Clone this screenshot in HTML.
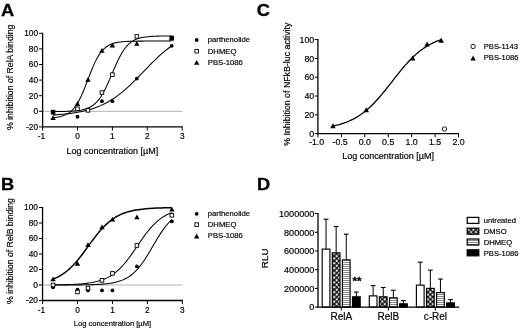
<!DOCTYPE html>
<html lang="en"><head><meta charset="utf-8"><title>Figure</title>
<style>
html,body{margin:0;padding:0;background:#fff;}
body{width:520px;height:329px;overflow:hidden;}
svg{display:block;font-family:'Liberation Sans', Arial, Helvetica, sans-serif;}
</style></head><body>
<svg width="520" height="329" viewBox="0 0 520 329">
<rect width="520" height="329" fill="#fff"/>
<line x1="42.60" y1="111.30" x2="182.20" y2="111.30" stroke="#a8a8a8" stroke-width="0.9"/>
<path d="M53.07,117.68 L55.05,117.47 L57.03,117.21 L59.00,116.86 L60.98,116.42 L62.96,115.84 L64.94,115.10 L66.91,114.15 L68.89,112.94 L70.87,111.41 L72.85,109.51 L74.82,107.18 L76.80,104.35 L78.78,100.99 L80.76,97.09 L82.73,92.69 L84.71,87.88 L86.69,82.79 L88.67,77.59 L90.65,72.46 L92.62,67.59 L94.60,63.11 L96.58,59.11 L98.56,55.65 L100.53,52.72 L102.51,50.29 L104.49,48.32 L106.47,46.73 L108.44,45.46 L110.42,44.47 L112.40,43.69 L114.38,43.09 L116.36,42.62 L118.33,42.25 L120.31,41.98 L122.29,41.76 L124.27,41.60 L126.24,41.47 L128.22,41.37 L130.20,41.30 L132.18,41.24 L134.15,41.20 L136.13,41.17 L138.11,41.14 L140.09,41.12 L142.06,41.11 L144.04,41.10 L146.02,41.09 L148.00,41.08 L149.98,41.08 L151.95,41.07 L153.93,41.07 L155.91,41.07 L157.89,41.07 L159.86,41.07 L161.84,41.06 L163.82,41.06 L165.80,41.06 L167.77,41.06 L169.75,41.06 L171.73,41.06" fill="none" stroke="#000" stroke-width="1.05" stroke-linejoin="round"/>
<path d="M53.07,111.55 L55.05,111.54 L57.03,111.52 L59.00,111.50 L60.98,111.47 L62.96,111.44 L64.94,111.40 L66.91,111.34 L68.89,111.27 L70.87,111.18 L72.85,111.06 L74.82,110.91 L76.80,110.71 L78.78,110.47 L80.76,110.15 L82.73,109.76 L84.71,109.25 L86.69,108.61 L88.67,107.81 L90.65,106.81 L92.62,105.56 L94.60,104.03 L96.58,102.15 L98.56,99.90 L100.53,97.22 L102.51,94.09 L104.49,90.51 L106.47,86.53 L108.44,82.19 L110.42,77.60 L112.40,72.90 L114.38,68.23 L116.36,63.72 L118.33,59.49 L120.31,55.64 L122.29,52.23 L124.27,49.26 L126.24,46.73 L128.22,44.61 L130.20,42.86 L132.18,41.44 L134.15,40.28 L136.13,39.35 L138.11,38.61 L140.09,38.03 L142.06,37.56 L144.04,37.20 L146.02,36.91 L148.00,36.68 L149.98,36.51 L151.95,36.37 L153.93,36.26 L155.91,36.17 L157.89,36.11 L159.86,36.06 L161.84,36.02 L163.82,35.99 L165.80,35.96 L167.77,35.94 L169.75,35.93 L171.73,35.92" fill="none" stroke="#000" stroke-width="1.05" stroke-linejoin="round"/>
<path d="M53.07,115.00 L55.05,114.88 L57.03,114.74 L59.00,114.59 L60.98,114.43 L62.96,114.25 L64.94,114.05 L66.91,113.84 L68.89,113.61 L70.87,113.36 L72.85,113.08 L74.82,112.78 L76.80,112.46 L78.78,112.10 L80.76,111.72 L82.73,111.30 L84.71,110.85 L86.69,110.36 L88.67,109.83 L90.65,109.25 L92.62,108.63 L94.60,107.96 L96.58,107.24 L98.56,106.46 L100.53,105.63 L102.51,104.74 L104.49,103.78 L106.47,102.76 L108.44,101.67 L110.42,100.51 L112.40,99.28 L114.38,97.98 L116.36,96.60 L118.33,95.16 L120.31,93.64 L122.29,92.05 L124.27,90.40 L126.24,88.68 L128.22,86.89 L130.20,85.06 L132.18,83.16 L134.15,81.23 L136.13,79.25 L138.11,77.24 L140.09,75.21 L142.06,73.17 L144.04,71.11 L146.02,69.06 L148.00,67.02 L149.98,64.99 L151.95,62.99 L153.93,61.03 L155.91,59.11 L157.89,57.23 L159.86,55.41 L161.84,53.65 L163.82,51.95 L165.80,50.32 L167.77,48.76 L169.75,47.26 L171.73,45.84" fill="none" stroke="#000" stroke-width="1.05" stroke-linejoin="round"/>
<line x1="42.60" y1="32.80" x2="42.60" y2="127.40" stroke="#000" stroke-width="1.3"/>
<line x1="42.10" y1="126.90" x2="182.70" y2="126.90" stroke="#000" stroke-width="1.3"/>
<line x1="39.00" y1="33.30" x2="42.60" y2="33.30" stroke="#000" stroke-width="1.0"/>
<text x="38.00" y="36.25" font-size="8.3" text-anchor="end" font-weight="normal" fill="#000" stroke="#000" stroke-width="0.18">100</text>
<line x1="39.00" y1="48.90" x2="42.60" y2="48.90" stroke="#000" stroke-width="1.0"/>
<text x="38.00" y="51.85" font-size="8.3" text-anchor="end" font-weight="normal" fill="#000" stroke="#000" stroke-width="0.18">80</text>
<line x1="39.00" y1="64.50" x2="42.60" y2="64.50" stroke="#000" stroke-width="1.0"/>
<text x="38.00" y="67.45" font-size="8.3" text-anchor="end" font-weight="normal" fill="#000" stroke="#000" stroke-width="0.18">60</text>
<line x1="39.00" y1="80.10" x2="42.60" y2="80.10" stroke="#000" stroke-width="1.0"/>
<text x="38.00" y="83.05" font-size="8.3" text-anchor="end" font-weight="normal" fill="#000" stroke="#000" stroke-width="0.18">40</text>
<line x1="39.00" y1="95.70" x2="42.60" y2="95.70" stroke="#000" stroke-width="1.0"/>
<text x="38.00" y="98.65" font-size="8.3" text-anchor="end" font-weight="normal" fill="#000" stroke="#000" stroke-width="0.18">20</text>
<line x1="39.00" y1="111.30" x2="42.60" y2="111.30" stroke="#000" stroke-width="1.0"/>
<text x="38.00" y="114.25" font-size="8.3" text-anchor="end" font-weight="normal" fill="#000" stroke="#000" stroke-width="0.18">0</text>
<line x1="39.00" y1="126.90" x2="42.60" y2="126.90" stroke="#000" stroke-width="1.0"/>
<text x="38.00" y="129.85" font-size="8.3" text-anchor="end" font-weight="normal" fill="#000" stroke="#000" stroke-width="0.18">-20</text>
<line x1="42.60" y1="126.90" x2="42.60" y2="130.50" stroke="#000" stroke-width="1.0"/>
<text x="41.40" y="138.80" font-size="8.3" text-anchor="middle" font-weight="normal" fill="#000" stroke="#000" stroke-width="0.18">-1</text>
<line x1="77.50" y1="126.90" x2="77.50" y2="130.50" stroke="#000" stroke-width="1.0"/>
<text x="77.50" y="138.80" font-size="8.3" text-anchor="middle" font-weight="normal" fill="#000" stroke="#000" stroke-width="0.18">0</text>
<line x1="112.40" y1="126.90" x2="112.40" y2="130.50" stroke="#000" stroke-width="1.0"/>
<text x="112.40" y="138.80" font-size="8.3" text-anchor="middle" font-weight="normal" fill="#000" stroke="#000" stroke-width="0.18">1</text>
<line x1="147.30" y1="126.90" x2="147.30" y2="130.50" stroke="#000" stroke-width="1.0"/>
<text x="147.30" y="138.80" font-size="8.3" text-anchor="middle" font-weight="normal" fill="#000" stroke="#000" stroke-width="0.18">2</text>
<line x1="182.20" y1="126.90" x2="182.20" y2="130.50" stroke="#000" stroke-width="1.0"/>
<text x="182.20" y="138.80" font-size="8.3" text-anchor="middle" font-weight="normal" fill="#000" stroke="#000" stroke-width="0.18">3</text>
<text x="13.10" y="77.30" font-size="8.7" text-anchor="middle" font-weight="normal" fill="#000" stroke="#000" stroke-width="0.18" transform="rotate(-90 13.10 77.30)">% inhibition of RelA binding</text>
<text x="112.40" y="153.60" font-size="9.0" text-anchor="middle" font-weight="normal" fill="#000" stroke="#000" stroke-width="0.18">Log concentration [µM]</text>
<text transform="translate(0.90 16.40) scale(1.07 1)" x="0" y="0" font-size="17.1" font-weight="bold" fill="#000" stroke="#000" stroke-width="0.3">A</text>
<circle cx="53.07" cy="112.86" r="1.9" fill="#000"/>
<circle cx="77.50" cy="116.76" r="1.9" fill="#000"/>
<circle cx="87.97" cy="109.74" r="1.9" fill="#000"/>
<circle cx="101.93" cy="101.16" r="1.9" fill="#000"/>
<circle cx="112.40" cy="101.16" r="1.9" fill="#000"/>
<circle cx="136.83" cy="78.54" r="1.9" fill="#000"/>
<circle cx="171.73" cy="45.78" r="1.9" fill="#000"/>
<rect x="75.70" y="107.00" width="3.6" height="3.6" fill="#fff" stroke="#000" stroke-width="0.9"/>
<rect x="86.17" y="108.56" width="3.6" height="3.6" fill="#fff" stroke="#000" stroke-width="0.9"/>
<rect x="100.13" y="90.78" width="3.6" height="3.6" fill="#fff" stroke="#000" stroke-width="0.9"/>
<rect x="110.60" y="72.84" width="3.6" height="3.6" fill="#fff" stroke="#000" stroke-width="0.9"/>
<rect x="135.03" y="34.62" width="3.6" height="3.6" fill="#fff" stroke="#000" stroke-width="0.9"/>
<rect x="51.27" y="110.28" width="3.6" height="3.6" fill="#000" stroke="#000" stroke-width="0.9"/>
<rect x="169.93" y="36.18" width="3.6" height="3.6" fill="#000" stroke="#000" stroke-width="0.9"/>
<path d="M53.07,115.14 L55.77,119.94 L50.37,119.94 Z" fill="#000"/>
<path d="M77.50,101.10 L80.20,105.90 L74.80,105.90 Z" fill="#000"/>
<path d="M87.97,76.92 L90.67,81.72 L85.27,81.72 Z" fill="#000"/>
<path d="M101.93,48.06 L104.63,52.86 L99.23,52.86 Z" fill="#000"/>
<path d="M112.40,42.60 L115.10,47.40 L109.70,47.40 Z" fill="#000"/>
<path d="M136.83,41.04 L139.53,45.84 L134.13,45.84 Z" fill="#000"/>
<path d="M171.73,35.58 L174.43,40.38 L169.03,40.38 Z" fill="#000"/>
<circle cx="196.70" cy="40.00" r="1.9" fill="#000"/>
<rect x="194.90" y="49.40" width="3.6" height="3.6" fill="#fff" stroke="#000" stroke-width="0.9"/>
<path d="M196.70,59.90 L199.40,64.70 L194.00,64.70 Z" fill="#000"/>
<text x="207.80" y="42.40" font-size="7.7" text-anchor="start" font-weight="normal" fill="#000" stroke="#000" stroke-width="0.18">parthenolide</text>
<text x="207.80" y="53.80" font-size="7.7" text-anchor="start" font-weight="normal" fill="#000" stroke="#000" stroke-width="0.18">DHMEQ</text>
<text x="207.80" y="64.50" font-size="7.7" text-anchor="start" font-weight="normal" fill="#000" stroke="#000" stroke-width="0.18">PBS-1086</text>
<line x1="42.55" y1="285.00" x2="182.35" y2="285.00" stroke="#a8a8a8" stroke-width="0.9"/>
<path d="M53.03,279.12 L55.02,278.31 L57.00,277.40 L58.98,276.37 L60.96,275.24 L62.94,273.97 L64.92,272.57 L66.90,271.03 L68.88,269.35 L70.86,267.52 L72.84,265.54 L74.82,263.42 L76.80,261.17 L78.78,258.78 L80.76,256.29 L82.74,253.71 L84.72,251.05 L86.70,248.35 L88.68,245.62 L90.66,242.91 L92.64,240.22 L94.63,237.60 L96.61,235.05 L98.59,232.61 L100.57,230.28 L102.55,228.09 L104.53,226.03 L106.51,224.12 L108.49,222.36 L110.47,220.74 L112.45,219.27 L114.43,217.93 L116.41,216.73 L118.39,215.64 L120.37,214.67 L122.35,213.81 L124.33,213.04 L126.31,212.36 L128.29,211.76 L130.27,211.22 L132.25,210.76 L134.24,210.34 L136.22,209.98 L138.20,209.67 L140.18,209.39 L142.16,209.15 L144.14,208.93 L146.12,208.75 L148.10,208.59 L150.08,208.45 L152.06,208.32 L154.04,208.22 L156.02,208.12 L158.00,208.04 L159.98,207.97 L161.96,207.91 L163.94,207.86 L165.92,207.81 L167.90,207.77 L169.88,207.73 L171.87,207.70" fill="none" stroke="#000" stroke-width="1.5" stroke-linejoin="round"/>
<path d="M53.03,284.87 L55.02,284.85 L57.00,284.83 L58.98,284.80 L60.96,284.76 L62.94,284.73 L64.92,284.68 L66.90,284.63 L68.88,284.57 L70.86,284.50 L72.84,284.42 L74.82,284.33 L76.80,284.22 L78.78,284.09 L80.76,283.95 L82.74,283.78 L84.72,283.58 L86.70,283.36 L88.68,283.10 L90.66,282.80 L92.64,282.45 L94.63,282.05 L96.61,281.60 L98.59,281.07 L100.57,280.47 L102.55,279.78 L104.53,279.00 L106.51,278.11 L108.49,277.11 L110.47,275.98 L112.45,274.70 L114.43,273.28 L116.41,271.71 L118.39,269.97 L120.37,268.06 L122.35,265.98 L124.33,263.74 L126.31,261.34 L128.29,258.79 L130.27,256.12 L132.25,253.34 L134.24,250.49 L136.22,247.59 L138.20,244.67 L140.18,241.77 L142.16,238.93 L144.14,236.16 L146.12,233.49 L148.10,230.96 L150.08,228.57 L152.06,226.34 L154.04,224.28 L156.02,222.39 L158.00,220.66 L159.98,219.09 L161.96,217.69 L163.94,216.43 L165.92,215.30 L167.90,214.31 L169.88,213.43 L171.87,212.66" fill="none" stroke="#000" stroke-width="1.05" stroke-linejoin="round"/>
<path d="M53.03,284.99 L55.02,284.99 L57.00,284.98 L58.98,284.98 L60.96,284.98 L62.94,284.97 L64.92,284.97 L66.90,284.96 L68.88,284.95 L70.86,284.95 L72.84,284.94 L74.82,284.92 L76.80,284.91 L78.78,284.89 L80.76,284.87 L82.74,284.84 L84.72,284.81 L86.70,284.78 L88.68,284.74 L90.66,284.69 L92.64,284.63 L94.63,284.56 L96.61,284.47 L98.59,284.37 L100.57,284.25 L102.55,284.11 L104.53,283.94 L106.51,283.74 L108.49,283.50 L110.47,283.22 L112.45,282.89 L114.43,282.50 L116.41,282.04 L118.39,281.50 L120.37,280.86 L122.35,280.12 L124.33,279.25 L126.31,278.24 L128.29,277.08 L130.27,275.74 L132.25,274.21 L134.24,272.48 L136.22,270.52 L138.20,268.34 L140.18,265.94 L142.16,263.30 L144.14,260.46 L146.12,257.42 L148.10,254.23 L150.08,250.93 L152.06,247.55 L154.04,244.15 L156.02,240.79 L158.00,237.50 L159.98,234.35 L161.96,231.36 L163.94,228.56 L165.92,225.98 L167.90,223.62 L169.88,221.50 L171.87,219.59" fill="none" stroke="#000" stroke-width="1.05" stroke-linejoin="round"/>
<line x1="42.55" y1="207.00" x2="42.55" y2="301.00" stroke="#000" stroke-width="1.3"/>
<line x1="42.05" y1="300.50" x2="182.85" y2="300.50" stroke="#000" stroke-width="1.3"/>
<line x1="38.95" y1="207.50" x2="42.55" y2="207.50" stroke="#000" stroke-width="1.0"/>
<text x="37.95" y="210.45" font-size="8.3" text-anchor="end" font-weight="normal" fill="#000" stroke="#000" stroke-width="0.18">100</text>
<line x1="38.95" y1="223.00" x2="42.55" y2="223.00" stroke="#000" stroke-width="1.0"/>
<text x="37.95" y="225.95" font-size="8.3" text-anchor="end" font-weight="normal" fill="#000" stroke="#000" stroke-width="0.18">80</text>
<line x1="38.95" y1="238.50" x2="42.55" y2="238.50" stroke="#000" stroke-width="1.0"/>
<text x="37.95" y="241.45" font-size="8.3" text-anchor="end" font-weight="normal" fill="#000" stroke="#000" stroke-width="0.18">60</text>
<line x1="38.95" y1="254.00" x2="42.55" y2="254.00" stroke="#000" stroke-width="1.0"/>
<text x="37.95" y="256.95" font-size="8.3" text-anchor="end" font-weight="normal" fill="#000" stroke="#000" stroke-width="0.18">40</text>
<line x1="38.95" y1="269.50" x2="42.55" y2="269.50" stroke="#000" stroke-width="1.0"/>
<text x="37.95" y="272.45" font-size="8.3" text-anchor="end" font-weight="normal" fill="#000" stroke="#000" stroke-width="0.18">20</text>
<line x1="38.95" y1="285.00" x2="42.55" y2="285.00" stroke="#000" stroke-width="1.0"/>
<text x="37.95" y="287.95" font-size="8.3" text-anchor="end" font-weight="normal" fill="#000" stroke="#000" stroke-width="0.18">0</text>
<line x1="38.95" y1="300.50" x2="42.55" y2="300.50" stroke="#000" stroke-width="1.0"/>
<text x="37.95" y="303.45" font-size="8.3" text-anchor="end" font-weight="normal" fill="#000" stroke="#000" stroke-width="0.18">-20</text>
<line x1="42.55" y1="300.50" x2="42.55" y2="304.10" stroke="#000" stroke-width="1.0"/>
<text x="41.35" y="312.60" font-size="8.3" text-anchor="middle" font-weight="normal" fill="#000" stroke="#000" stroke-width="0.18">-1</text>
<line x1="77.50" y1="300.50" x2="77.50" y2="304.10" stroke="#000" stroke-width="1.0"/>
<text x="77.50" y="312.60" font-size="8.3" text-anchor="middle" font-weight="normal" fill="#000" stroke="#000" stroke-width="0.18">0</text>
<line x1="112.45" y1="300.50" x2="112.45" y2="304.10" stroke="#000" stroke-width="1.0"/>
<text x="112.45" y="312.60" font-size="8.3" text-anchor="middle" font-weight="normal" fill="#000" stroke="#000" stroke-width="0.18">1</text>
<line x1="147.40" y1="300.50" x2="147.40" y2="304.10" stroke="#000" stroke-width="1.0"/>
<text x="147.40" y="312.60" font-size="8.3" text-anchor="middle" font-weight="normal" fill="#000" stroke="#000" stroke-width="0.18">2</text>
<line x1="182.35" y1="300.50" x2="182.35" y2="304.10" stroke="#000" stroke-width="1.0"/>
<text x="182.35" y="312.60" font-size="8.3" text-anchor="middle" font-weight="normal" fill="#000" stroke="#000" stroke-width="0.18">3</text>
<text x="13.10" y="251.00" font-size="8.7" text-anchor="middle" font-weight="normal" fill="#000" stroke="#000" stroke-width="0.18" transform="rotate(-90 13.10 251.00)">% inhibition of RelB binding</text>
<text x="112.45" y="325.60" font-size="7.6" text-anchor="middle" font-weight="normal" fill="#000" stroke="#000" stroke-width="0.18">Log concentration [µM]</text>
<text transform="translate(0.90 189.60) scale(1.07 1)" x="0" y="0" font-size="17.1" font-weight="bold" fill="#000" stroke="#000" stroke-width="0.3">B</text>
<circle cx="53.03" cy="287.32" r="1.9" fill="#000"/>
<circle cx="77.50" cy="289.65" r="1.9" fill="#000"/>
<circle cx="87.98" cy="290.43" r="1.9" fill="#000"/>
<circle cx="101.97" cy="290.43" r="1.9" fill="#000"/>
<circle cx="112.45" cy="290.43" r="1.9" fill="#000"/>
<circle cx="136.92" cy="266.40" r="1.9" fill="#000"/>
<circle cx="171.87" cy="221.45" r="1.9" fill="#000"/>
<rect x="51.23" y="283.20" width="3.6" height="3.6" fill="#fff" stroke="#000" stroke-width="0.9"/>
<rect x="75.70" y="290.18" width="3.6" height="3.6" fill="#fff" stroke="#000" stroke-width="0.9"/>
<rect x="86.19" y="286.30" width="3.6" height="3.6" fill="#fff" stroke="#000" stroke-width="0.9"/>
<rect x="100.17" y="278.55" width="3.6" height="3.6" fill="#fff" stroke="#000" stroke-width="0.9"/>
<rect x="110.65" y="271.57" width="3.6" height="3.6" fill="#fff" stroke="#000" stroke-width="0.9"/>
<rect x="135.12" y="243.67" width="3.6" height="3.6" fill="#fff" stroke="#000" stroke-width="0.9"/>
<rect x="170.06" y="213.45" width="3.6" height="3.6" fill="#fff" stroke="#000" stroke-width="0.9"/>
<path d="M53.03,276.40 L55.73,281.20 L50.33,281.20 Z" fill="#000"/>
<path d="M77.50,260.90 L80.20,265.70 L74.80,265.70 Z" fill="#000"/>
<path d="M87.98,242.30 L90.69,247.10 L85.28,247.10 Z" fill="#000"/>
<path d="M101.97,224.47 L104.67,229.28 L99.27,229.28 Z" fill="#000"/>
<path d="M112.45,216.72 L115.15,221.53 L109.75,221.53 Z" fill="#000"/>
<path d="M136.92,214.40 L139.62,219.20 L134.22,219.20 Z" fill="#000"/>
<path d="M171.87,206.65 L174.56,211.45 L169.17,211.45 Z" fill="#000"/>
<circle cx="196.70" cy="213.80" r="1.9" fill="#000"/>
<rect x="194.90" y="222.80" width="3.6" height="3.6" fill="#fff" stroke="#000" stroke-width="0.9"/>
<path d="M196.70,233.60 L199.40,238.40 L194.00,238.40 Z" fill="#000"/>
<text x="207.80" y="216.20" font-size="7.7" text-anchor="start" font-weight="normal" fill="#000" stroke="#000" stroke-width="0.18">parthenolide</text>
<text x="207.80" y="227.20" font-size="7.7" text-anchor="start" font-weight="normal" fill="#000" stroke="#000" stroke-width="0.18">DHMEQ</text>
<text x="207.80" y="238.20" font-size="7.7" text-anchor="start" font-weight="normal" fill="#000" stroke="#000" stroke-width="0.18">PBS-1086</text>
<path d="M332.94,126.06 L334.75,125.67 L336.55,125.24 L338.35,124.78 L340.16,124.27 L341.96,123.72 L343.76,123.13 L345.57,122.48 L347.37,121.78 L349.18,121.02 L350.98,120.20 L352.78,119.32 L354.59,118.37 L356.39,117.35 L358.19,116.25 L360.00,115.07 L361.80,113.82 L363.61,112.48 L365.41,111.06 L367.21,109.56 L369.02,107.97 L370.82,106.30 L372.62,104.54 L374.43,102.70 L376.23,100.79 L378.04,98.80 L379.84,96.74 L381.64,94.62 L383.45,92.44 L385.25,90.22 L387.05,87.96 L388.86,85.67 L390.66,83.36 L392.46,81.04 L394.27,78.72 L396.07,76.42 L397.88,74.14 L399.68,71.89 L401.48,69.69 L403.29,67.53 L405.09,65.44 L406.89,63.40 L408.70,61.44 L410.50,59.56 L412.31,57.75 L414.11,56.02 L415.91,54.38 L417.72,52.83 L419.52,51.36 L421.32,49.97 L423.13,48.66 L424.93,47.44 L426.74,46.30 L428.54,45.23 L430.34,44.24 L432.15,43.31 L433.95,42.45 L435.75,41.66 L437.56,40.92 L439.36,40.24 L441.17,39.62" fill="none" stroke="#000" stroke-width="1.3" stroke-linejoin="round"/>
<line x1="317.90" y1="39.10" x2="317.90" y2="134.20" stroke="#000" stroke-width="1.3"/>
<line x1="317.40" y1="133.70" x2="459.00" y2="133.70" stroke="#000" stroke-width="1.3"/>
<line x1="314.70" y1="39.60" x2="317.90" y2="39.60" stroke="#000" stroke-width="1.0"/>
<text x="314.20" y="42.75" font-size="8.8" text-anchor="end" font-weight="normal" fill="#000" stroke="#000" stroke-width="0.18">100</text>
<line x1="314.70" y1="58.42" x2="317.90" y2="58.42" stroke="#000" stroke-width="1.0"/>
<text x="314.20" y="61.57" font-size="8.8" text-anchor="end" font-weight="normal" fill="#000" stroke="#000" stroke-width="0.18">80</text>
<line x1="314.70" y1="77.24" x2="317.90" y2="77.24" stroke="#000" stroke-width="1.0"/>
<text x="314.20" y="80.39" font-size="8.8" text-anchor="end" font-weight="normal" fill="#000" stroke="#000" stroke-width="0.18">60</text>
<line x1="314.70" y1="96.06" x2="317.90" y2="96.06" stroke="#000" stroke-width="1.0"/>
<text x="314.20" y="99.21" font-size="8.8" text-anchor="end" font-weight="normal" fill="#000" stroke="#000" stroke-width="0.18">40</text>
<line x1="314.70" y1="114.88" x2="317.90" y2="114.88" stroke="#000" stroke-width="1.0"/>
<text x="314.20" y="118.03" font-size="8.8" text-anchor="end" font-weight="normal" fill="#000" stroke="#000" stroke-width="0.18">20</text>
<line x1="314.70" y1="133.70" x2="317.90" y2="133.70" stroke="#000" stroke-width="1.0"/>
<text x="314.20" y="136.85" font-size="8.8" text-anchor="end" font-weight="normal" fill="#000" stroke="#000" stroke-width="0.18">0</text>
<line x1="317.95" y1="133.70" x2="317.95" y2="137.30" stroke="#000" stroke-width="1.0"/>
<text x="316.65" y="145.30" font-size="8.8" text-anchor="middle" font-weight="normal" fill="#000" stroke="#000" stroke-width="0.18">-1.0</text>
<line x1="341.38" y1="133.70" x2="341.38" y2="137.30" stroke="#000" stroke-width="1.0"/>
<text x="340.07" y="145.30" font-size="8.8" text-anchor="middle" font-weight="normal" fill="#000" stroke="#000" stroke-width="0.18">-0.5</text>
<line x1="364.80" y1="133.70" x2="364.80" y2="137.30" stroke="#000" stroke-width="1.0"/>
<text x="364.80" y="145.30" font-size="8.8" text-anchor="middle" font-weight="normal" fill="#000" stroke="#000" stroke-width="0.18">0.0</text>
<line x1="388.23" y1="133.70" x2="388.23" y2="137.30" stroke="#000" stroke-width="1.0"/>
<text x="388.23" y="145.30" font-size="8.8" text-anchor="middle" font-weight="normal" fill="#000" stroke="#000" stroke-width="0.18">0.5</text>
<line x1="411.65" y1="133.70" x2="411.65" y2="137.30" stroke="#000" stroke-width="1.0"/>
<text x="411.65" y="145.30" font-size="8.8" text-anchor="middle" font-weight="normal" fill="#000" stroke="#000" stroke-width="0.18">1.0</text>
<line x1="435.08" y1="133.70" x2="435.08" y2="137.30" stroke="#000" stroke-width="1.0"/>
<text x="435.08" y="145.30" font-size="8.8" text-anchor="middle" font-weight="normal" fill="#000" stroke="#000" stroke-width="0.18">1.5</text>
<line x1="458.50" y1="133.70" x2="458.50" y2="137.30" stroke="#000" stroke-width="1.0"/>
<text x="458.50" y="145.30" font-size="8.8" text-anchor="middle" font-weight="normal" fill="#000" stroke="#000" stroke-width="0.18">2.0</text>
<text x="290.00" y="84.20" font-size="8.8" text-anchor="middle" font-weight="normal" fill="#000" stroke="#000" stroke-width="0.18" transform="rotate(-90 290.00 84.20)">% Inhibition of NFkB-luc activity</text>
<text x="388.20" y="159.30" font-size="9.0" text-anchor="middle" font-weight="normal" fill="#000" stroke="#000" stroke-width="0.18">Log concentration [µM]</text>
<text transform="translate(256.80 16.30) scale(1.07 1)" x="0" y="0" font-size="17.1" font-weight="bold" fill="#000" stroke="#000" stroke-width="0.3">C</text>
<path d="M332.94,123.37 L335.74,128.37 L330.14,128.37 Z" fill="#000"/>
<path d="M366.21,107.37 L369.01,112.37 L363.41,112.37 Z" fill="#000"/>
<path d="M412.59,55.62 L415.39,60.62 L409.79,60.62 Z" fill="#000"/>
<path d="M427.11,41.50 L429.91,46.50 L424.31,46.50 Z" fill="#000"/>
<path d="M441.17,37.74 L443.97,42.74 L438.37,42.74 Z" fill="#000"/>
<circle cx="444.44" cy="128.99" r="2.2" fill="#fff" stroke="#000" stroke-width="0.9"/>
<circle cx="473.10" cy="46.50" r="2.2" fill="#fff" stroke="#000" stroke-width="0.9"/>
<path d="M473.10,55.60 L475.80,60.40 L470.40,60.40 Z" fill="#000"/>
<text x="483.80" y="48.90" font-size="7.6" text-anchor="start" font-weight="normal" fill="#000" stroke="#000" stroke-width="0.18">PBS-1143</text>
<text x="483.80" y="59.80" font-size="7.6" text-anchor="start" font-weight="normal" fill="#000" stroke="#000" stroke-width="0.18">PBS-1086</text>
<defs>
<pattern id="chk" width="4.8" height="4.8" patternUnits="userSpaceOnUse" patternTransform="translate(1.9 2.9)"><rect width="4.8" height="4.8" fill="#111"/><rect x="0.2" y="0.2" width="2" height="2" fill="#fff"/><rect x="2.6" y="2.6" width="2" height="2" fill="#fff"/></pattern>
<pattern id="hl" width="2" height="2" patternUnits="userSpaceOnUse"><rect width="2" height="2" fill="#fff"/><rect width="2" height="1" fill="#888"/></pattern>
</defs>
<line x1="326.05" y1="219.21" x2="326.05" y2="249.13" stroke="#000" stroke-width="1.0"/>
<line x1="323.65" y1="219.21" x2="328.45" y2="219.21" stroke="#000" stroke-width="1.1"/>
<rect x="322.20" y="249.13" width="7.7" height="57.97" fill="#fff" stroke="#000" stroke-width="1.15"/>
<line x1="336.15" y1="226.50" x2="336.15" y2="252.87" stroke="#000" stroke-width="1.0"/>
<line x1="333.75" y1="226.50" x2="338.55" y2="226.50" stroke="#000" stroke-width="1.1"/>
<rect x="332.30" y="252.87" width="7.7" height="54.23" fill="url(#chk)" stroke="#000" stroke-width="1.15"/>
<line x1="346.25" y1="234.17" x2="346.25" y2="259.88" stroke="#000" stroke-width="1.0"/>
<line x1="343.85" y1="234.17" x2="348.65" y2="234.17" stroke="#000" stroke-width="1.1"/>
<rect x="342.40" y="259.88" width="7.7" height="47.22" fill="url(#hl)" stroke="#000" stroke-width="1.15"/>
<line x1="356.35" y1="292.05" x2="356.35" y2="296.81" stroke="#000" stroke-width="1.0"/>
<line x1="353.95" y1="292.05" x2="358.75" y2="292.05" stroke="#000" stroke-width="1.1"/>
<rect x="352.50" y="296.81" width="7.7" height="10.29" fill="#000" stroke="#000" stroke-width="1.15"/>
<line x1="373.15" y1="285.60" x2="373.15" y2="295.88" stroke="#000" stroke-width="1.0"/>
<line x1="370.75" y1="285.60" x2="375.55" y2="285.60" stroke="#000" stroke-width="1.1"/>
<rect x="369.30" y="295.88" width="7.7" height="11.22" fill="#fff" stroke="#000" stroke-width="1.15"/>
<line x1="383.25" y1="287.47" x2="383.25" y2="296.81" stroke="#000" stroke-width="1.0"/>
<line x1="380.85" y1="287.47" x2="385.65" y2="287.47" stroke="#000" stroke-width="1.1"/>
<rect x="379.40" y="296.81" width="7.7" height="10.29" fill="url(#chk)" stroke="#000" stroke-width="1.15"/>
<line x1="393.35" y1="290.27" x2="393.35" y2="297.75" stroke="#000" stroke-width="1.0"/>
<line x1="390.95" y1="290.27" x2="395.75" y2="290.27" stroke="#000" stroke-width="1.1"/>
<rect x="389.50" y="297.75" width="7.7" height="9.35" fill="url(#hl)" stroke="#000" stroke-width="1.15"/>
<line x1="403.45" y1="300.56" x2="403.45" y2="303.83" stroke="#000" stroke-width="1.0"/>
<line x1="401.05" y1="300.56" x2="405.85" y2="300.56" stroke="#000" stroke-width="1.1"/>
<rect x="399.60" y="303.83" width="7.7" height="3.27" fill="#000" stroke="#000" stroke-width="1.15"/>
<line x1="420.25" y1="262.22" x2="420.25" y2="285.13" stroke="#000" stroke-width="1.0"/>
<line x1="417.85" y1="262.22" x2="422.65" y2="262.22" stroke="#000" stroke-width="1.1"/>
<rect x="416.40" y="285.13" width="7.7" height="21.97" fill="#fff" stroke="#000" stroke-width="1.15"/>
<line x1="430.35" y1="270.17" x2="430.35" y2="288.40" stroke="#000" stroke-width="1.0"/>
<line x1="427.95" y1="270.17" x2="432.75" y2="270.17" stroke="#000" stroke-width="1.1"/>
<rect x="426.50" y="288.40" width="7.7" height="18.70" fill="url(#chk)" stroke="#000" stroke-width="1.15"/>
<line x1="440.45" y1="279.05" x2="440.45" y2="292.61" stroke="#000" stroke-width="1.0"/>
<line x1="438.05" y1="279.05" x2="442.85" y2="279.05" stroke="#000" stroke-width="1.1"/>
<rect x="436.60" y="292.61" width="7.7" height="14.49" fill="url(#hl)" stroke="#000" stroke-width="1.15"/>
<line x1="450.55" y1="299.62" x2="450.55" y2="302.89" stroke="#000" stroke-width="1.0"/>
<line x1="448.15" y1="299.62" x2="452.95" y2="299.62" stroke="#000" stroke-width="1.1"/>
<rect x="446.70" y="302.89" width="7.7" height="4.21" fill="#000" stroke="#000" stroke-width="1.15"/>
<line x1="318.00" y1="213.10" x2="318.00" y2="307.60" stroke="#000" stroke-width="1.3"/>
<line x1="317.50" y1="307.10" x2="459.20" y2="307.10" stroke="#000" stroke-width="1.35"/>
<line x1="314.80" y1="307.10" x2="318.00" y2="307.10" stroke="#000" stroke-width="1.0"/>
<text x="314.40" y="310.35" font-size="9.1" text-anchor="end" font-weight="normal" fill="#000" stroke="#000" stroke-width="0.18">0</text>
<line x1="314.80" y1="288.40" x2="318.00" y2="288.40" stroke="#000" stroke-width="1.0"/>
<text x="314.40" y="291.65" font-size="9.1" text-anchor="end" font-weight="normal" fill="#000" stroke="#000" stroke-width="0.18">200000</text>
<line x1="314.80" y1="269.70" x2="318.00" y2="269.70" stroke="#000" stroke-width="1.0"/>
<text x="314.40" y="272.95" font-size="9.1" text-anchor="end" font-weight="normal" fill="#000" stroke="#000" stroke-width="0.18">400000</text>
<line x1="314.80" y1="251.00" x2="318.00" y2="251.00" stroke="#000" stroke-width="1.0"/>
<text x="314.40" y="254.25" font-size="9.1" text-anchor="end" font-weight="normal" fill="#000" stroke="#000" stroke-width="0.18">600000</text>
<line x1="314.80" y1="232.30" x2="318.00" y2="232.30" stroke="#000" stroke-width="1.0"/>
<text x="314.40" y="235.55" font-size="9.1" text-anchor="end" font-weight="normal" fill="#000" stroke="#000" stroke-width="0.18">800000</text>
<line x1="314.80" y1="213.60" x2="318.00" y2="213.60" stroke="#000" stroke-width="1.0"/>
<text x="314.40" y="216.85" font-size="9.1" text-anchor="end" font-weight="normal" fill="#000" stroke="#000" stroke-width="0.18">1000000</text>
<line x1="341.30" y1="307.10" x2="341.30" y2="310.50" stroke="#000" stroke-width="1.0"/>
<text x="341.30" y="320.00" font-size="10" text-anchor="middle" font-weight="normal" fill="#000" stroke="#000" stroke-width="0.18">RelA</text>
<line x1="388.30" y1="307.10" x2="388.30" y2="310.50" stroke="#000" stroke-width="1.0"/>
<text x="388.30" y="320.00" font-size="10" text-anchor="middle" font-weight="normal" fill="#000" stroke="#000" stroke-width="0.18">RelB</text>
<line x1="435.30" y1="307.10" x2="435.30" y2="310.50" stroke="#000" stroke-width="1.0"/>
<text x="435.30" y="320.00" font-size="10" text-anchor="middle" font-weight="normal" fill="#000" stroke="#000" stroke-width="0.18">c-Rel</text>
<text x="267.80" y="258.30" font-size="9.9" text-anchor="middle" font-weight="normal" fill="#000" stroke="#000" stroke-width="0.18" transform="rotate(-90 267.80 258.30)">RLU</text>
<text transform="translate(257.00 189.90) scale(1.07 1)" x="0" y="0" font-size="17.1" font-weight="bold" fill="#000" stroke="#000" stroke-width="0.3">D</text>
<text x="357.00" y="285.00" font-size="11.5" text-anchor="middle" font-weight="bold" fill="#000" stroke="#000" stroke-width="0.3">**</text>
<rect x="467.2" y="217.40" width="11.6" height="6" fill="#fff" stroke="#000" stroke-width="1.25"/>
<text x="483.80" y="223.10" font-size="7.6" text-anchor="start" font-weight="normal" fill="#000" stroke="#000" stroke-width="0.18">untreated</text>
<rect x="467.2" y="228.20" width="11.6" height="6" fill="url(#chk)" stroke="#000" stroke-width="1.25"/>
<text x="483.80" y="233.90" font-size="7.6" text-anchor="start" font-weight="normal" fill="#000" stroke="#000" stroke-width="0.18">DMSO</text>
<rect x="467.2" y="239.00" width="11.6" height="6" fill="url(#hl)" stroke="#000" stroke-width="1.25"/>
<text x="483.80" y="244.70" font-size="7.6" text-anchor="start" font-weight="normal" fill="#000" stroke="#000" stroke-width="0.18">DHMEQ</text>
<rect x="467.2" y="249.80" width="11.6" height="6" fill="#000" stroke="#000" stroke-width="1.25"/>
<text x="483.80" y="255.50" font-size="7.6" text-anchor="start" font-weight="normal" fill="#000" stroke="#000" stroke-width="0.18">PBS-1086</text>
</svg>
</body></html>
